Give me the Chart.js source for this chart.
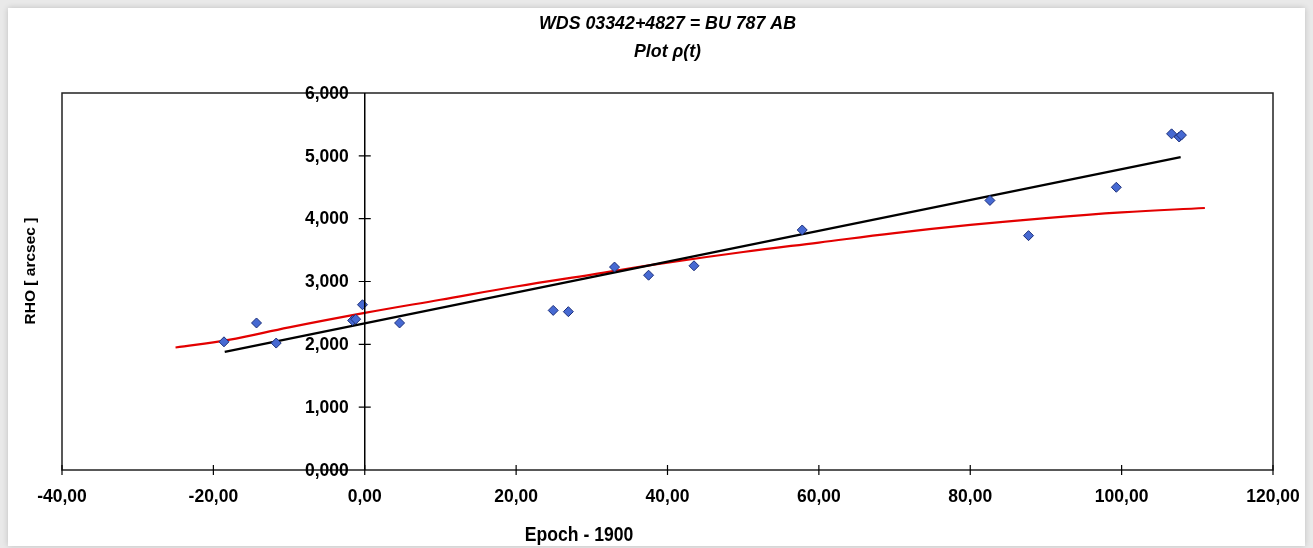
<!DOCTYPE html>
<html>
<head>
<meta charset="utf-8">
<script src="https://cdn.jsdelivr.net/npm/chart.js@4.4.0/dist/chart.umd.min.js"></script>
<style>
  html, body { margin: 0; padding: 0; background: #e9e9e9; }
  #wrap { position: absolute; left: 0; top: 0; width: 1313px; height: 548px; overflow: hidden; }
  #card { position: absolute; left: 8px; top: 8px; width: 1297px; height: 538px; background: #fff;
          box-shadow: 0 0 6px rgba(0,0,0,0.18); }
  canvas { position: absolute; left: 0; top: 0; }
</style>
</head>
<body>
<div id="wrap">
  <div id="card"></div>
  <canvas id="rhoChart" width="1313" height="548"></canvas>
</div>
<script>
// Medidas de separación (epoch - 1900, rho en arcsec)
const obsEpoch = [-18.6, -14.3, -11.7, -1.6, -1.2, -0.3, 4.6, 24.9, 26.9, 33.0, 37.5, 43.5, 57.8, 82.6, 87.7, 99.3, 106.6, 107.6, 107.9];
const obsRho   = [2.04, 2.34, 2.02, 2.38, 2.40, 2.63, 2.34, 2.54, 2.52, 3.23, 3.10, 3.25, 3.82, 4.29, 3.73, 4.50, 5.35, 5.30, 5.33];

// Ajuste lineal
const linEpoch = [-18.5, 107.8];
const linRho   = [1.88, 4.98];

// Efemérides de la órbita (curva roja)
const orbEpoch = [-25, -18, -10, 0, 10, 20, 30, 40, 50, 60, 70, 80, 90, 100, 111];
const orbRho   = [1.95, 2.07, 2.27, 2.50, 2.71, 2.92, 3.11, 3.30, 3.47, 3.62, 3.77, 3.90, 4.01, 4.10, 4.17];

const titleLines = ['WDS 03342+4827 = BU 787 AB', 'Plot \u03C1(t)'];
const xTitle = 'Epoch - 1900';
const yTitle = 'RHO [ arcsec ]';

const labelFont = 'bold 17.5px "Liberation Sans", Arial, sans-serif';

function toPoints(xs, ys) {
    return xs.map((x, i) => ({ x: x, y: ys[i] }));
}

// Marco, marcas cruzadas, etiquetas y textos
const decorPlugin = {
    id: 'decor',
    afterDraw(chart) {
        const ctx = chart.ctx;
        const a = chart.chartArea;
        const xs = chart.scales.x;
        const ys = chart.scales.y;
        const x0 = xs.getPixelForValue(0);
        ctx.save();

        ctx.strokeStyle = '#222';
        ctx.lineWidth = 1.5;
        ctx.strokeRect(a.left, a.top, a.right - a.left, a.bottom - a.top);

        // eje vertical en t = 0
        ctx.strokeStyle = '#000';
        ctx.beginPath();
        ctx.moveTo(x0, a.top);
        ctx.lineTo(x0, a.bottom);
        ctx.stroke();

        ctx.lineWidth = 1.2;
        ctx.beginPath();
        xs.ticks.forEach(t => {
            const px = xs.getPixelForValue(t.value);
            ctx.moveTo(px, a.bottom - 5);
            ctx.lineTo(px, a.bottom + 5);
        });
        ys.ticks.forEach(t => {
            const py = ys.getPixelForValue(t.value);
            if (t.value > 0 && t.value < 6) {
                ctx.moveTo(x0 - 6, py);
                ctx.lineTo(x0 + 6, py);
            }
        });
        ctx.stroke();

        ctx.fillStyle = '#000';
        ctx.font = labelFont;
        ctx.textBaseline = 'middle';
        ctx.textAlign = 'center';
        xs.ticks.forEach(t => {
            ctx.fillText(t.value.toFixed(2).replace('.', ','), xs.getPixelForValue(t.value), 497);
        });
        ctx.textAlign = 'right';
        ys.ticks.forEach(t => {
            ctx.fillText(t.value.toFixed(3).replace('.', ','), x0 - 16, ys.getPixelForValue(t.value) + 1);
        });

        ctx.textAlign = 'center';
        const cx = (a.left + a.right) / 2;
        ctx.font = 'italic bold 17.8px "Liberation Sans", Arial, sans-serif';
        ctx.fillText(titleLines[0], cx, 24);
        ctx.fillText(titleLines[1], cx, 52);

        ctx.save();
        ctx.translate(579, 535);
        ctx.scale(0.88, 1);
        ctx.font = 'bold 20px "Liberation Sans", Arial, sans-serif';
        ctx.fillText(xTitle, 0, 0);
        ctx.restore();

        ctx.translate(31, 271);
        ctx.rotate(-Math.PI / 2);
        ctx.font = 'bold 15.5px "Liberation Sans", Arial, sans-serif';
        ctx.fillText(yTitle, 0, 0);
        ctx.restore();
    }
};

new Chart(document.getElementById('rhoChart'), {
    type: 'scatter',
    data: {
        datasets: [
            {
                data: toPoints(orbEpoch, orbRho),
                showLine: true,
                borderColor: '#e30000',
                borderWidth: 2.2,
                pointRadius: 0,
                tension: 0.4,
                order: 3
            },
            {
                data: toPoints(linEpoch, linRho),
                showLine: true,
                borderColor: '#000',
                borderWidth: 2.4,
                pointRadius: 0,
                order: 2
            },
            {
                data: toPoints(obsEpoch, obsRho),
                pointStyle: 'rectRot',
                pointRadius: 5,
                backgroundColor: '#4669d2',
                borderColor: '#1c2f7a',
                borderWidth: 1,
                order: 1
            }
        ]
    },
    options: {
        responsive: false,
        animation: false,
        layout: { padding: { left: 62, top: 93, right: 40, bottom: 78 } },
        plugins: {
            legend: { display: false },
            title: { display: false },
            tooltip: { enabled: false }
        },
        scales: {
            x: {
                type: 'linear',
                position: { y: 0 },
                min: -40,
                max: 120,
                grid: { display: false },
                border: { display: false },
                ticks: { stepSize: 20, display: false }
            },
            y: {
                type: 'linear',
                position: { x: 0 },
                min: 0,
                max: 6,
                grid: { display: false },
                border: { display: false },
                ticks: { stepSize: 1, display: false }
            }
        }
    },
    plugins: [decorPlugin]
});
</script>
</body>
</html>
